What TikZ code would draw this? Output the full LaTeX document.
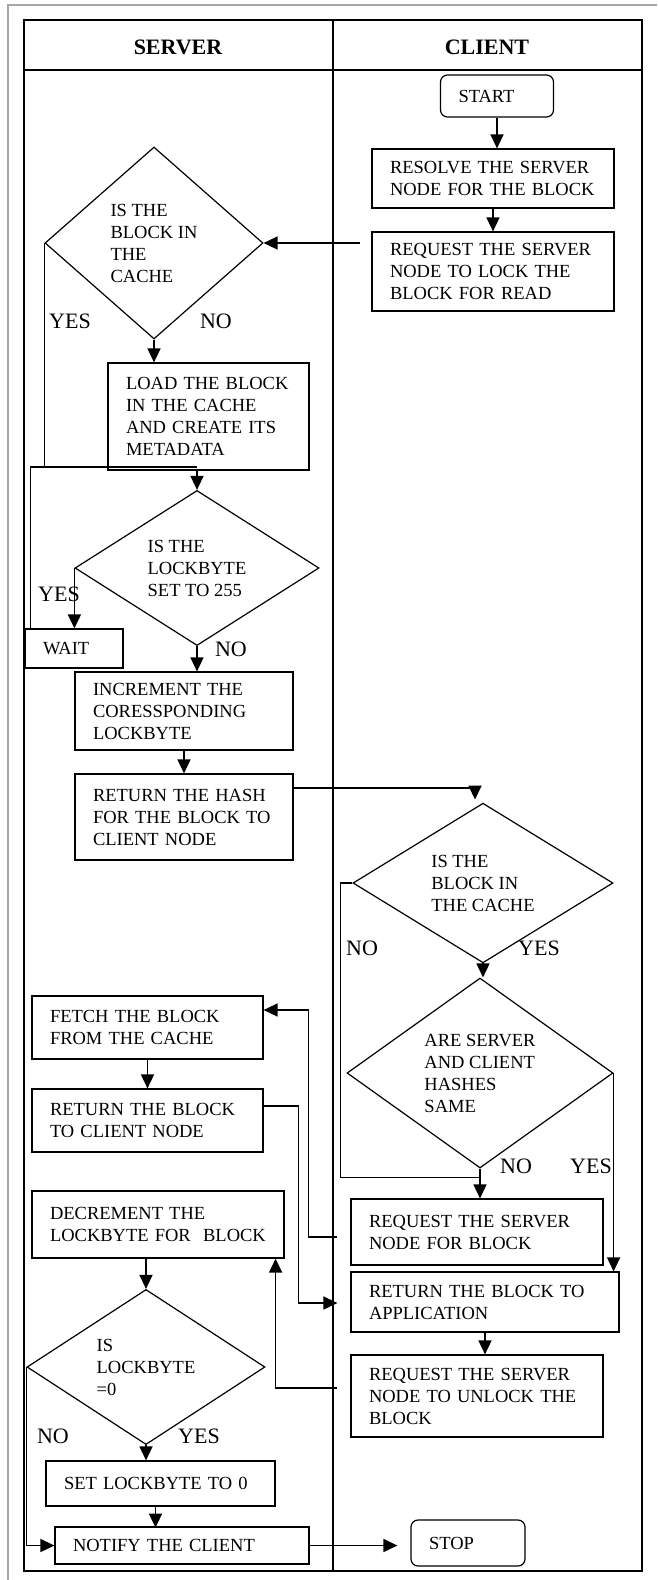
\documentclass[tikz,border=0pt]{standalone}
\usepackage{fontspec}
\setmainfont{Liberation Serif}
\usetikzlibrary{arrows.meta, shapes.geometric, calc}
\newcommand{\boxfont}{\fontsize{18.5}{22}\selectfont}

\begin{document}
\begin{tikzpicture}[x=1pt, y=-1pt,
    procbox/.style={draw, line width=1.2pt, align=left, inner xsep=18pt, inner ysep=0pt, font=\boxfont},
    termbox/.style={procbox, rounded corners=7pt},
    decision/.style={draw, diamond, line width=1.2pt, align=left, inner sep=0pt, font=\boxfont},
    flow/.style={line width=1.6pt, -{Triangle[length=14pt,width=13pt]}},
    link/.style={line width=1.5pt},
    answer/.style={inner sep=0pt, font=\fontsize{22}{26}\selectfont},
    lane/.style={inner sep=0pt, font=\fontsize{22}{26}\selectfont\bfseries}]
  \useasboundingbox (0,0) rectangle (657,1580);
  \draw[gray!70, line width=1.5pt] (8,1580) -- (8,5) -- (657,5);
  \draw[line width=1.8pt] (24,20) rectangle (642,1571);
  \draw[line width=1.8pt] (24,70) -- (642,70);
  \draw[line width=1.8pt] (333,20) -- (333,1571);
  \node[lane] (server) at (178,47) {SERVER};
  \node[lane] (client) at (487,47) {CLIENT};

  \node[termbox, text width=77pt, minimum height=42pt] (start) at (497,96) {START};
  \node[procbox, text width=206pt, minimum height=59pt] (resolve) at (493,178.5) {RESOLVE THE SERVER\\NODE FOR THE BLOCK};
  \node[procbox, text width=206pt, minimum height=79pt] (reqlock) at (493,271.5) {REQUEST THE SERVER\\NODE TO LOCK THE\\BLOCK FOR READ};
  \node[decision, minimum width=218pt, minimum height=192pt] (incache) at (154,243) {IS THE\\BLOCK IN\\THE\\CACHE};
  \node[procbox, text width=165pt, minimum height=107pt] (load) at (208.5,416.5) {LOAD THE BLOCK\\IN THE CACHE\\AND CREATE ITS\\METADATA};
  \node[decision, minimum width=244pt, minimum height=135pt] (isset) at (197,568) {IS THE\\LOCKBYTE\\SET TO 255};
  \node[procbox, text width=62pt, minimum height=39pt] (wait) at (74,648.5) {WAIT};
  \node[procbox, text width=182pt, minimum height=78pt] (incr) at (184,711) {INCREMENT THE\\CORESSPONDING\\LOCKBYTE};
  \node[procbox, text width=182pt, minimum height=86pt] (rethash) at (184,817) {RETURN THE HASH\\FOR THE BLOCK TO\\CLIENT NODE};
  \node[decision, minimum width=260pt, minimum height=144pt] (clcache) at (483,883) {IS THE\\BLOCK IN\\THE CACHE};
  \node[decision, minimum width=266pt, minimum height=190pt] (same) at (480,1073) {ARE SERVER\\AND CLIENT\\HASHES\\SAME};
  \node[procbox, text width=195pt, minimum height=63pt] (fetch) at (147.5,1027.5) {FETCH THE BLOCK\\FROM THE CACHE};
  \node[procbox, text width=195pt, minimum height=63pt] (retblock) at (147.5,1120.5) {RETURN THE BLOCK\\TO CLIENT NODE};
  \node[procbox, text width=216pt, minimum height=67pt] (decr) at (158,1224.5) {DECREMENT THE\\LOCKBYTE FOR\ \ BLOCK};
  \node[procbox, text width=216pt, minimum height=66pt] (reqblock) at (477,1232) {REQUEST THE SERVER\\NODE FOR BLOCK};
  \node[procbox, text width=232pt, minimum height=60pt] (retapp) at (485,1302) {RETURN THE BLOCK TO\\APPLICATION};
  \node[procbox, text width=216pt, minimum height=82pt] (requnlock) at (477,1396) {REQUEST THE SERVER\\NODE TO UNLOCK THE\\BLOCK};
  \node[decision, minimum width=238pt, minimum height=141pt] (iszero) at (146,1367) {IS\\LOCKBYTE\\=0};
  \node[procbox, text width=193pt, minimum height=45pt] (setlb) at (160.5,1483.5) {SET LOCKBYTE TO 0};
  \node[procbox, text width=218pt, minimum height=37pt] (notify) at (182,1545.5) {NOTIFY THE CLIENT};
  \node[termbox, text width=78pt, minimum height=46pt] (stop) at (468,1543) {STOP};

  \node[answer] (yesA) at (70,321) {YES};
  \node[answer] (noA) at (216,321) {NO};
  \node[answer] (yesB) at (59,594) {YES};
  \node[answer] (noB) at (231,649) {NO};
  \node[answer] (noC) at (362,948) {NO};
  \node[answer] (yesC) at (539,948) {YES};
  \node[answer] (noD) at (516,1166) {NO};
  \node[answer] (yesD) at (591,1166) {YES};
  \node[answer] (noE) at (53,1436) {NO};
  \node[answer] (yesE) at (199,1436) {YES};

  \coordinate (merge) at ($(isset.north)+(0,-23)$);

  \draw[flow] (start.south) -- (start.south |- resolve.north);
  \draw[flow] (resolve.south) -- (resolve.south |- reqlock.north);
  \draw[flow] ($(reqlock.west |- incache.east)+(-11,0)$) -- (incache.east);
  \draw[flow] (incache.south) -- (incache.south |- load.north);
  \draw[link] (incache.west) |- (merge);
  \draw[link] ($(wait.north west)+(6,0)$) |- (merge);
  \draw[flow] (isset.north |- load.south) -- (isset.north);
  \draw[flow] (isset.west) -- (isset.west |- wait.north);
  \draw[flow] (isset.south) -- (isset.south |- incr.north);
  \draw[flow] (incr.south) -- (rethash.north);
  \draw[flow] ($(rethash.east)+(0,-29)$) -| ($(clcache.north)+(-8,-3)$);
  \draw[link] (clcache.west) -- ++(-12,0) |- ($(same.south)+(0,9)$);
  \draw[flow] (clcache.south) -- (clcache.south |- same.north);
  \draw[flow] (same.south) -- (same.south |- reqblock.north);
  \draw[flow] (same.east) -- (same.east |- retapp.north);
  \draw[flow] ($(reqblock.west)+(-13,5)$) -- ++(-29,0) |- ($(fetch.east)+(0,-17.5)$);
  \draw[flow] (fetch.south) -- (retblock.north);
  \draw[flow] ($(retblock.east)+(0,-14.5)$) -- ++(35,0) |- ($(retapp.west)+(-13,1)$);
  \draw[flow] (retapp.south) -- (retapp.south |- requnlock.north);
  \draw[flow] ($(requnlock.west)+(-13,-8)$) -| ($(decr.south east)+(-9,0)$);
  \draw[flow] (iszero.north |- decr.south) -- (iszero.north);
  \draw[flow] (iszero.south) -- (iszero.south |- setlb.north);
  \draw[flow] ($(setlb.south)+(-5,0)$) -- ++(0,21);
  \draw[flow] (iszero.west) |- (notify.west);
  \draw[flow] (notify.east) -- ($(stop.west |- notify.east)+(-13,0)$);
\end{tikzpicture}
\end{document}
